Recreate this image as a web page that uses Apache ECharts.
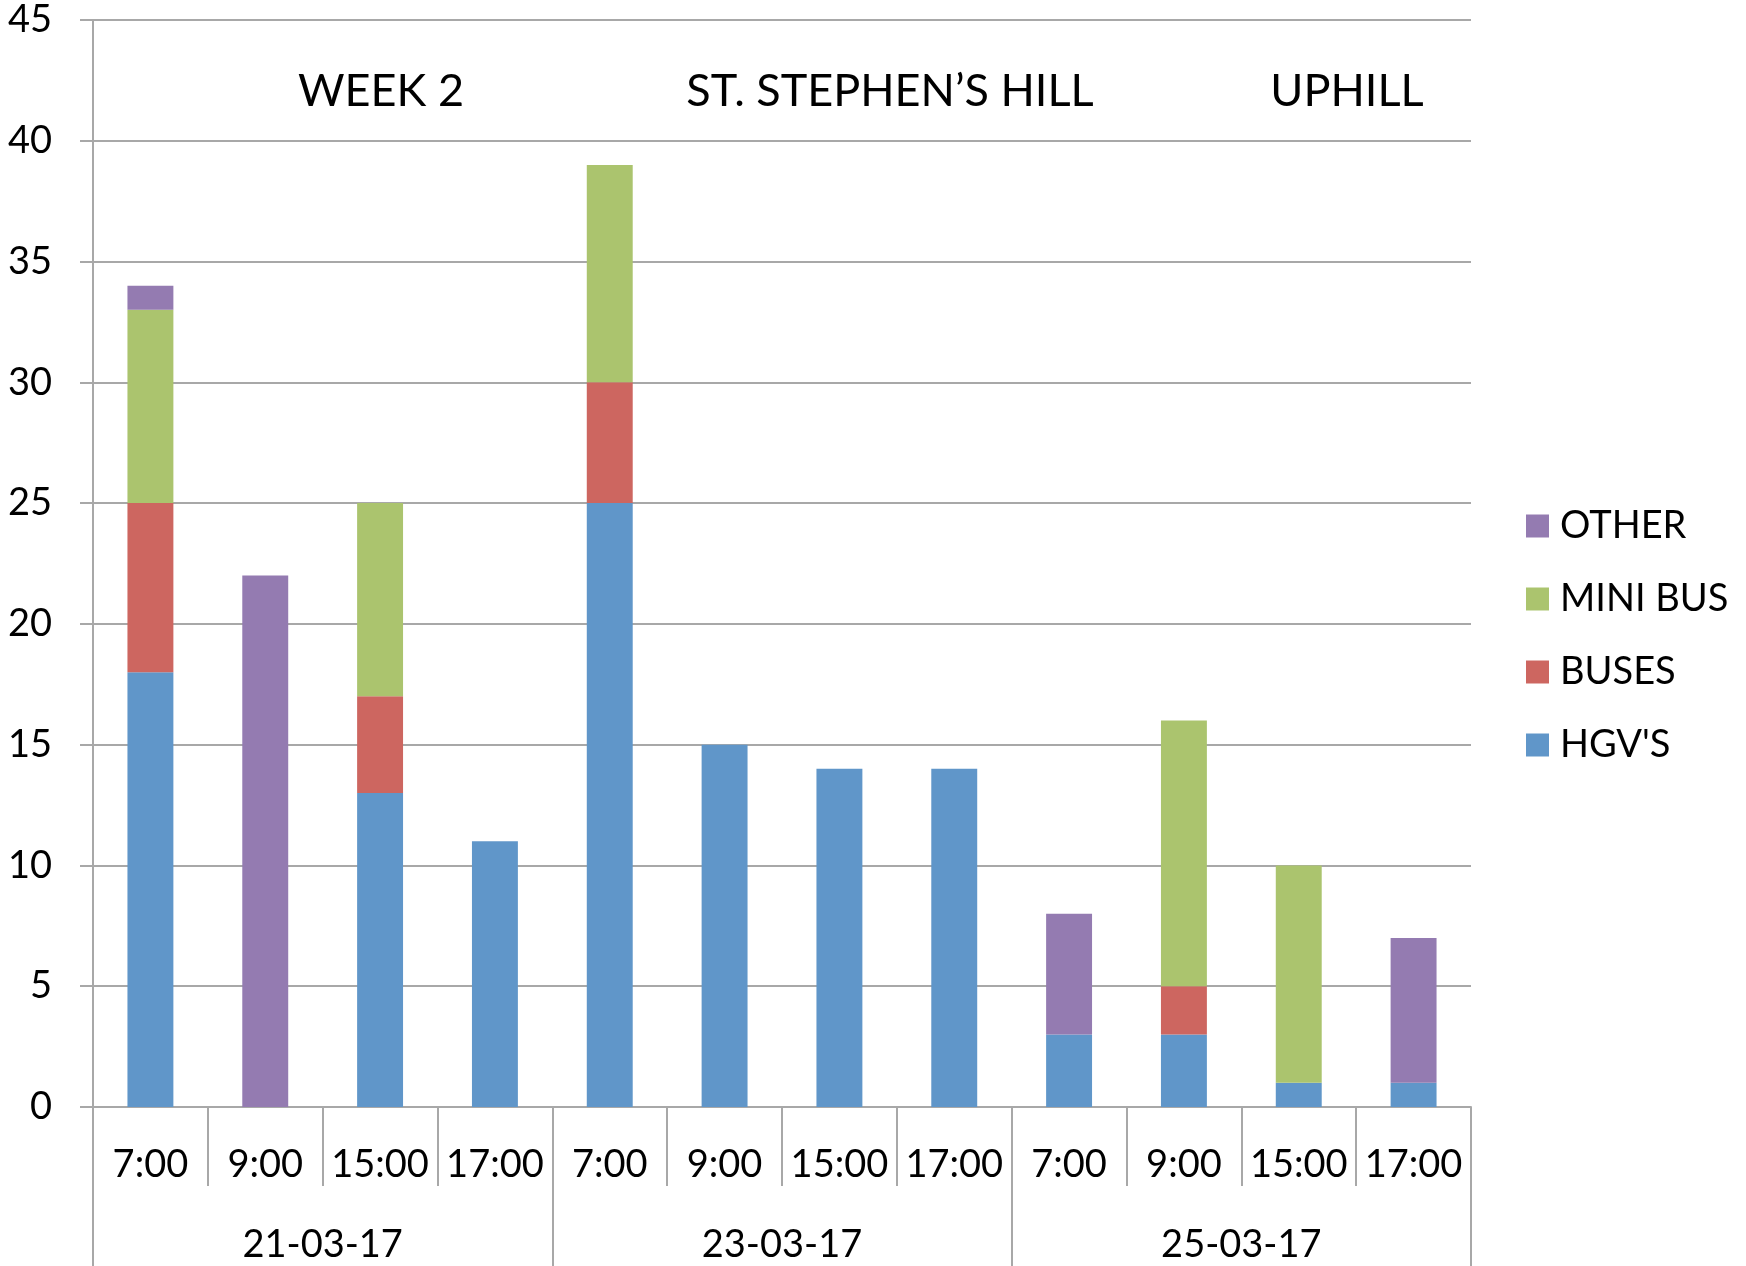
<!DOCTYPE html>
<html>
<head>
<meta charset="utf-8">
<script src="https://cdn.jsdelivr.net/npm/echarts@6/dist/echarts.min.js"></script>
<style>
  html, body { margin: 0; padding: 0; background: #fff; }
  #main { width: 1746px; height: 1266px; }
</style>
</head>
<body>
<div id="main"></div>
<script>
// categories
var hours = ['7:00', '9:00', '15:00', '17:00', '7:00', '9:00', '15:00', '17:00', '7:00', '9:00', '15:00', '17:00']
var dates = ['21-03-17', '23-03-17', '25-03-17']
var titles = ['WEEK 2', 'ST. STEPHEN\u2019S HILL', 'UPHILL']

// series values (stacked bottom to top)
var hgvs = [18, 0, 13, 11, 25, 15, 14, 14, 3, 3, 1, 1]
var buses = [7, 0, 4, 0, 5, 0, 0, 0, 0, 2, 0, 0]
var miniBus = [8, 0, 8, 0, 9, 0, 0, 0, 0, 11, 9, 0]
var other = [1, 22, 0, 0, 0, 0, 0, 0, 5, 0, 0, 6]

var FONT = 'Lato'
var GRAY = '#A8A8A8'

var myChart = echarts.init(document.getElementById('main'))

function bar(name, data, color) {
  return {
    name: name,
    type: 'bar',
    stack: 'total',
    barCategoryGap: '60%',
    itemStyle: { color: color },
    data: data
  }
}

var option = {
  animation: false,
  textStyle: { fontFamily: FONT },
  // three pieces of the chart title
  title: [
    { text: titles[0], left: 376 },
    { text: titles[1], left: 885 },
    { text: titles[2], left: 1342 }
  ].map(function (t) {
    return {
      text: t.text,
      left: t.left,
      top: 86,
      textAlign: 'center',
      textVerticalAlign: 'middle',
      textStyle: { fontFamily: FONT, fontSize: 45, fontWeight: 'normal', color: '#000' }
    }
  }),
  legend: {
    orient: 'vertical',
    left: 1521,
    top: 502,
    itemWidth: 23,
    itemHeight: 23,
    itemGap: 35,
    icon: 'rect',
    textStyle: { fontFamily: FONT, fontSize: 38, color: '#000', padding: [0, 0, 0, 6] },
    data: ['OTHER', 'MINI BUS', 'BUSES', "HGV'S"]
  },
  grid: { left: 93, right: 275, top: 20, bottom: 159 },
  xAxis: [
    {
      type: 'category',
      data: hours,
      position: 'bottom',
      axisLine: { show: true, lineStyle: { color: GRAY, width: 2 } },
      axisTick: { show: true, interval: 0, length: 79, lineStyle: { color: GRAY, width: 2 } },
      axisLabel: { interval: 0, margin: 39, fontFamily: FONT, fontSize: 38, color: '#000' }
    },
    {
      type: 'category',
      data: dates,
      position: 'bottom',
      axisLine: { show: false },
      axisTick: { show: true, interval: 0, length: 160, lineStyle: { color: GRAY, width: 2 } },
      axisLabel: { interval: 0, margin: 119, fontFamily: FONT, fontSize: 38, color: '#000' }
    }
  ],
  yAxis: {
    type: 'value',
    min: 0,
    max: 45,
    interval: 5,
    axisLine: { show: true, lineStyle: { color: GRAY, width: 2 } },
    axisTick: { show: true, length: 13, lineStyle: { color: GRAY, width: 2 } },
    axisLabel: { margin: 41, fontFamily: FONT, fontSize: 38, color: '#000' },
    splitLine: { show: true, lineStyle: { color: GRAY, width: 2 } }
  },
  series: [
    bar("HGV'S", hgvs, '#6096C9'),
    bar('BUSES', buses, '#CD6660'),
    bar('MINI BUS', miniBus, '#ABC46E'),
    bar('OTHER', other, '#947BB1')
  ]
}

myChart.setOption(option)
</script>
</body>
</html>
